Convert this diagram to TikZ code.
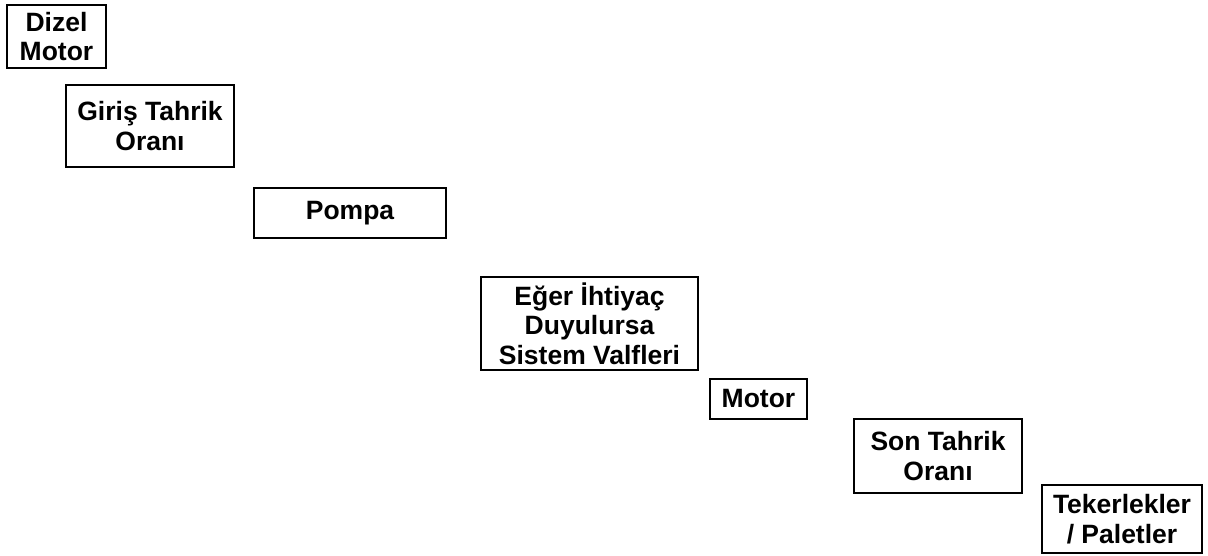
\documentclass[tikz,border=0pt]{standalone}
\usepackage{fontspec}
\setmainfont{Liberation Sans}
\begin{document}
\begin{tikzpicture}[x=1pt,y=-1pt,
  box/.style={draw=black, line width=2pt, inner sep=0pt, align=center,
    font=\bfseries\fontsize{26.5}{29.5}\selectfont, text=black}]
\useasboundingbox (0,0) rectangle (1208,555);
\node[box, minimum width=99pt,  minimum height=63pt] (dizel) at (56.5,36.5) {Dizel\\Motor};
\node[box, minimum width=168pt, minimum height=82pt] (giris) at (150,126) {Giriş Tahrik\\Oranı};
\node[box, minimum width=192pt, minimum height=50pt] (pompa) at (350,213) {Pompa};
\node[box, minimum width=217pt, minimum height=93pt] (valf) at (589.5,323.5) {Eğer İhtiyaç\\Duyulursa\\Sistem Valfleri};
\node[box, minimum width=97pt,  minimum height=40pt] (motor) at (758.5,399) {Motor};
\node[box, minimum width=168pt, minimum height=74pt] (son) at (938,456) {Son Tahrik\\Oranı};
\node[box, minimum width=160pt, minimum height=68pt] (teker) at (1122,519) {Tekerlekler\\/ Paletler};
\end{tikzpicture}
\end{document}
